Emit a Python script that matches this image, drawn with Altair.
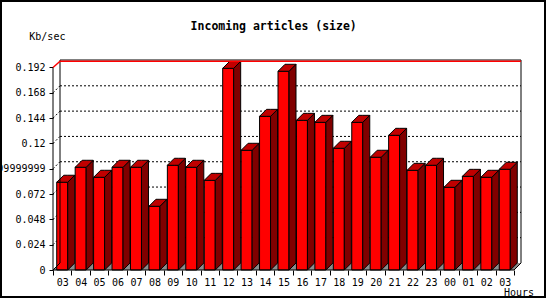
import altair as alt
import pandas as pd

# ---------------- data ----------------
hours = ["03", "04", "05", "06", "07", "08", "09", "10", "11", "12", "13", "14",
         "15", "16", "17", "18", "19", "20", "21", "22", "23", "00", "01", "02", "03"]
values = [0.0832, 0.0974, 0.0879, 0.0974, 0.0974, 0.0604, 0.0993, 0.0974, 0.0850,
          0.1912, 0.1135, 0.1457, 0.1884, 0.1419, 0.1400, 0.1154, 0.1400, 0.1069,
          0.1277, 0.0945, 0.0993, 0.0784, 0.0888, 0.0879, 0.0955]
ytick_values = [0, 0.024, 0.048, 0.072, 0.096, 0.12, 0.144, 0.168, 0.192]
ytick_labels = ["0", "0.024", "0.048", "0.072", "0.09599999999999999",
                "0.12", "0.144", "0.168", "0.192"]
title_text = "Incoming articles (size)"
ylabel_text = "Kb/sec"
xlabel_text = "Hours"

# ---------------- geometry (style) ----------------
N = len(values)
BAND_PX = 18.44
PPU = 1054.7            # pixels per y unit
DEPTH_PX = 7
BAR_PX = 11
DX = DEPTH_PX / BAND_PX
DY = DEPTH_PX / PPU
X_MAX = N + DX
W = int(round(N * BAND_PX + DEPTH_PX))
H = 210
Y_MAX = H / PPU
Y_TOP = ytick_values[-1]
HALF = BAR_PX / BAND_PX / 2

MONO = "DejaVu Sans Mono"

xs = alt.Scale(domain=[0, X_MAX], nice=False, zero=False)
ys = alt.Scale(domain=[0, Y_MAX], nice=False, zero=False)

label_expr_x = ("datum.value >= %d ? '' : [%s][datum.value]"
                % (N, ",".join("'%s'" % h for h in hours)))
label_expr_y = ("[%s][indexof([%s], datum.value)]"
                % (",".join("'%s'" % l for l in ytick_labels),
                   ",".join(str(v) for v in ytick_values)))

xaxis = alt.Axis(values=list(range(N + 1)), tickSize=5, labelOffset=BAND_PX / 2,
                 labelExpr=label_expr_x, domain=False, grid=False, title=None,
                 labelFont=MONO, labelFontSize=10, labelColor="black",
                 tickColor="black", labelPadding=2, labelAngle=0,
                 labelOverlap=False, labelFlush=False)
yaxis = alt.Axis(values=ytick_values, tickSize=4, labelPadding=4,
                 labelExpr=label_expr_y, domain=False, grid=False, title=None,
                 labelFont=MONO, labelFontSize=10, labelColor="black",
                 tickColor="black", labelOverlap=False, labelFlush=False)

X = alt.X("x:Q", scale=xs, axis=xaxis)
Y = alt.Y("y:Q", scale=ys, axis=yaxis)

# ---------------- tables ----------------
front = pd.DataFrame({
    "x": [i + 0.5 - HALF for i in range(N)],
    "x2": [i + 0.5 + HALF for i in range(N)],
    "y": [0.0] * N,
    "y2": values,
})

side_rows, top_rows = [], []
for i, v in enumerate(values):
    x0 = i + 0.5 - HALF
    x1 = i + 0.5 + HALF
    side_rows += [dict(id=i, x=x1, y=0.0, y2=v),
                  dict(id=i, x=x1 + DX, y=DY, y2=v + DY)]
    top_rows += [dict(id=i, x=x0, y=v, y2=v),
                 dict(id=i, x=x0 + DX, y=v, y2=v + DY),
                 dict(id=i, x=x1, y=v, y2=v + DY),
                 dict(id=i, x=x1 + DX, y=v + DY, y2=v + DY)]
side = pd.DataFrame(side_rows)
top = pd.DataFrame(top_rows)

floor = pd.DataFrame([dict(x=0, y=0, y2=0), dict(x=DX, y=0, y2=DY),
                      dict(x=N, y=0, y2=DY), dict(x=X_MAX, y=DY, y2=DY)])

inner = ytick_values[1:-1]
grid = pd.DataFrame({"x": [DX] * len(inner), "x2": [X_MAX] * len(inner),
                     "y": [v + DY for v in inner], "y2": [v + DY for v in inner]})
grid_diag = pd.DataFrame({"x": [0] * len(inner), "x2": [DX] * len(inner),
                          "y": inner, "y2": [v + DY for v in inner]})

frame = pd.DataFrame([
    dict(x=0, y=0, x2=0, y2=Y_TOP),
    dict(x=0, y=0, x2=N, y2=0),
    dict(x=N, y=0, x2=X_MAX, y2=DY),
    dict(x=0, y=0, x2=DX, y2=DY),
    dict(x=DX, y=DY, x2=DX, y2=Y_MAX),
    dict(x=X_MAX, y=DY, x2=X_MAX, y2=Y_MAX),
    dict(x=DX, y=Y_MAX, x2=X_MAX, y2=Y_MAX),
])
red = pd.DataFrame([
    dict(x=0, y=Y_TOP, x2=DX, y2=Y_MAX - 1.2 / PPU),
    dict(x=DX, y=Y_MAX - 1.2 / PPU, x2=X_MAX, y2=Y_MAX - 1.2 / PPU),
])

# ---------------- layers ----------------
def seg(df, **kw):
    return alt.Chart(df).mark_rule(**kw).encode(x=X, y=Y, x2="x2:Q", y2="y2:Q")

grid_l = seg(grid, color="black", strokeWidth=1, strokeDash=[2, 2])
grid_d = seg(grid_diag, color="black", strokeWidth=1, strokeDash=[2, 2])
floor_l = alt.Chart(floor).mark_area(color="#8c8c8c", opacity=1).encode(
    x=X, y=Y, y2="y2:Q")
front_l = alt.Chart(front).mark_rect(fill="#ff0000", stroke="black",
                                     strokeWidth=1, opacity=1).encode(
    x=X, x2="x2:Q", y=Y, y2="y2:Q")
side_l = alt.Chart(side).mark_area(fill="#800000", stroke="black",
                                   strokeWidth=1, opacity=1).encode(
    x=X, y=Y, y2="y2:Q", detail="id:N")
top_l = alt.Chart(top).mark_area(fill="#c00000", stroke="black",
                                 strokeWidth=1, opacity=1).encode(
    x=X, y=Y, y2="y2:Q", detail="id:N")
frame_l = seg(frame, color="black", strokeWidth=1)
red_l = seg(red, color="#ff0000", strokeWidth=1.5)

txt = pd.DataFrame({"t": [title_text, ylabel_text, xlabel_text]})
title_l = alt.Chart(txt).transform_filter("datum.t == '%s'" % title_text).mark_text(
    font=MONO, fontSize=11.5, fontWeight="bold", align="center", baseline="middle",
    color="black").encode(x=alt.value(220.7), y=alt.value(-33), text="t:N")
ylab_l = alt.Chart(txt).transform_filter("datum.t == '%s'" % ylabel_text).mark_text(
    font=MONO, fontSize=10, align="left", baseline="middle",
    color="black").encode(x=alt.value(-23.7), y=alt.value(-23.3), text="t:N")
xlab_l = alt.Chart(txt).transform_filter("datum.t == '%s'" % xlabel_text).mark_text(
    font=MONO, fontSize=10, align="left", baseline="middle",
    color="black").encode(x=alt.value(451), y=alt.value(233), text="t:N")

border_l = alt.Chart(pd.DataFrame({"a": [0]})).mark_rect(
    filled=False, stroke="black", strokeWidth=2).encode(
    x=alt.value(-52), x2=alt.value(492), y=alt.value(-59), y2=alt.value(237))

chart = alt.layer(
    grid_l, grid_d, floor_l, front_l, side_l, top_l, frame_l, red_l,
    title_l, ylab_l, xlab_l, border_l
).properties(
    width=W, height=H,
    autosize=alt.AutoSizeParams(type="none"),
    padding={"left": 53, "top": 60, "right": 550 - 53 - W, "bottom": 300 - 60 - H},
    background="white",
).configure_view(strokeWidth=0)

chart.save("out.html", embed_options={"renderer": "svg", "actions": False})
